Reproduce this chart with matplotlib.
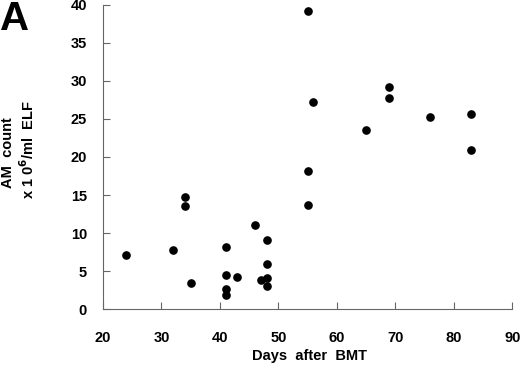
import matplotlib
matplotlib.use("Agg")
import matplotlib.pyplot as plt

days = [24, 32, 34, 34, 35, 41, 41, 41, 41, 43, 46, 47, 48, 48, 48, 48,
        55, 55, 55, 56, 65, 69, 69, 76, 83, 83]
am_count = [7.1, 7.8, 14.8, 13.5, 3.5, 8.2, 4.5, 2.7, 1.8, 4.2, 11.0, 3.8,
            9.1, 5.9, 4.1, 3.1, 13.7, 39.2, 18.2, 27.2, 23.5, 29.2, 27.7,
            25.2, 25.7, 20.9]
xticks = [20, 30, 40, 50, 60, 70, 80, 90]
yticks = [0, 5, 10, 15, 20, 25, 30, 35, 40]

plt.rcParams['font.family'] = ['Liberation Sans', 'DejaVu Sans']
plt.rcParams['font.weight'] = 'bold'
plt.rcParams['mathtext.default'] = 'bf'

fig = plt.figure(figsize=(5.2, 3.65), dpi=100)
ax = fig.add_axes([0.198, 0.153, 0.787, 0.834])
ax.plot(days, am_count, 'o', color='black', markersize=5.2, linestyle='none', clip_on=False)
ax.set_xlim(20, 90)
ax.set_ylim(0, 40)
ax.set_xticks(xticks)
ax.set_yticks(yticks)
ax.tick_params(direction='in', length=5, width=0.8, color='#666666', labelsize=10.5)
ax.tick_params(axis='x', pad=16)
ax.tick_params(axis='y', pad=11.5)
for lab in ax.get_xticklabels() + ax.get_yticklabels():
    lab.set_fontweight('bold')
for s in ['top', 'right']:
    ax.spines[s].set_visible(False)
for s in ['left', 'bottom']:
    ax.spines[s].set_color('#666666')
    ax.spines[s].set_linewidth(0.8)

fig.text(310 / 520, 1 - 356 / 365, 'Days  after  BMT', ha='center', va='center',
         fontsize=10.5, fontweight='bold')
fig.text(8 / 520, 1 - 153 / 365, 'AM  count', ha='center', va='center', rotation=90,
         fontsize=10.5, fontweight='bold')
fig.text(28 / 520, 1 - 150 / 365, 'x 1 0$^{6}$/ml  ELF', ha='center', va='center', rotation=90,
         fontsize=10.5, fontweight='bold')
fig.text(0.0, 1.0, 'A', ha='left', va='top', fontsize=29, fontweight='bold')

fig.savefig('out.png', dpi=100)
